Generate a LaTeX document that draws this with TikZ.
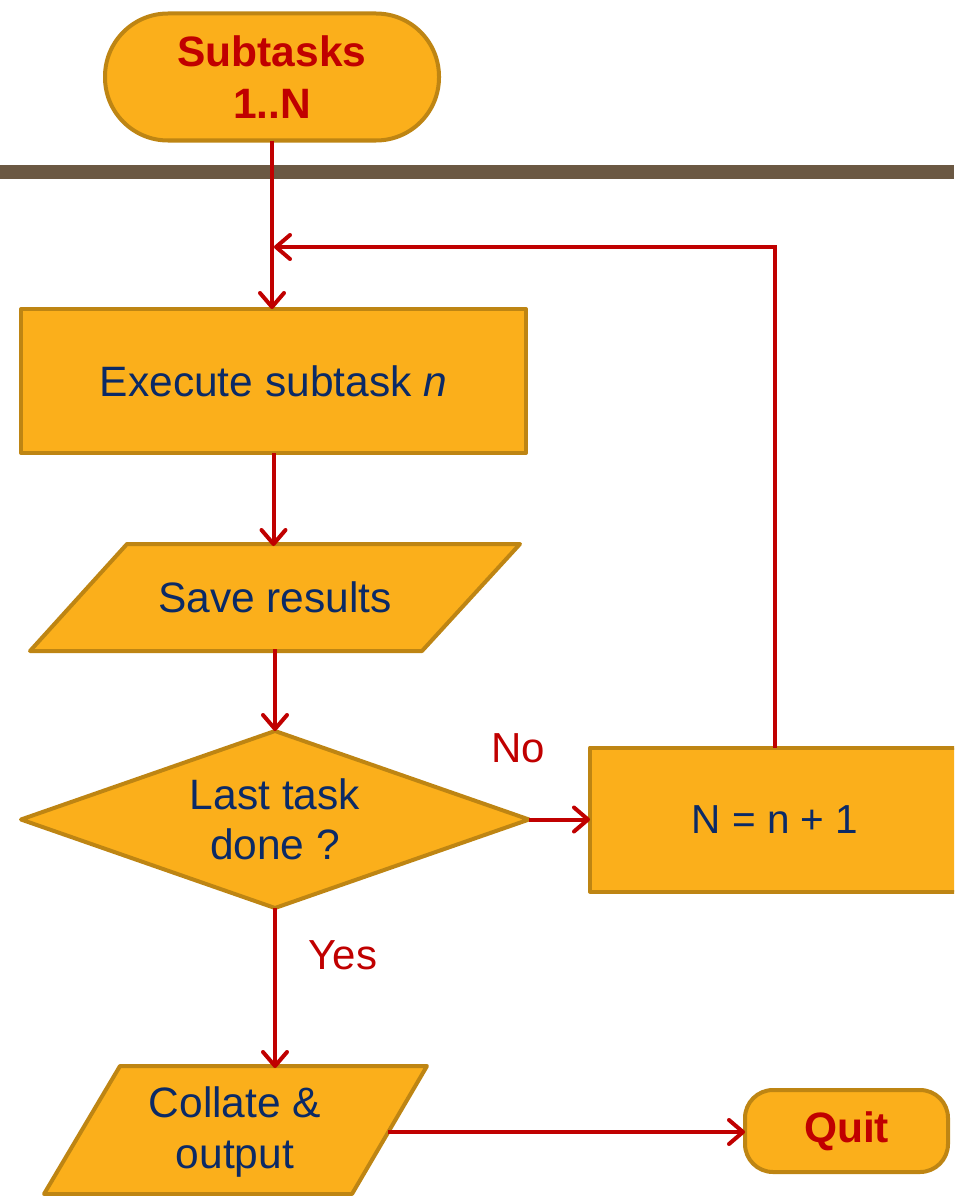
\documentclass[tikz,border=0pt]{standalone}
\usepackage{fontspec}
\setmainfont{Liberation Sans}
\usetikzlibrary{shapes.geometric,arrows.meta}
\definecolor{boxfill}{HTML}{FBAF1B}
\definecolor{boxline}{HTML}{BE8513}
\definecolor{flowred}{HTML}{C00000}
\definecolor{navy}{HTML}{0B2A66}
\definecolor{barbrown}{HTML}{6B5843}
\begin{document}
\begin{tikzpicture}[x=1pt,y=-1pt,
  shapebox/.style={draw=boxline, fill=boxfill, line width=4pt, line join=round, text=navy,
    font=\fontsize{42.5}{50}\selectfont, inner sep=0pt, outer sep=0pt, align=center},
  para/.style={draw=boxline, fill=boxfill, line width=4pt, line join=round},
  paratext/.style={text=navy, font=\fontsize{42.5}{51}\selectfont, inner sep=0pt, outer sep=0pt, align=center},
  term/.style={shapebox, text=flowred, font=\fontsize{42.5}{52}\selectfont\bfseries},
  flow/.style={draw=flowred, line width=4pt, -{Straight Barb[length=14pt,width=24pt,round]}},
  lbl/.style={text=flowred, font=\fontsize{42}{48}\selectfont, inner sep=0pt}
]
\useasboundingbox (0,0) rectangle (954,1196);
\clip (0,0) rectangle (954,1196);
\fill[barbrown] (0,165) rectangle (954,179);
\node[term, rounded corners=63pt, minimum width=334pt, minimum height=127pt] (start) at (272,77) {Subtasks\\1..N};
\node[shapebox, minimum width=505pt, minimum height=144pt] (exec) at (273.5,381) {Execute subtask \textit{n}};
\path[para] (127,544) -- (520,544) -- (422,651) -- (30,651) -- cycle
  (275,597.5) node[paratext, minimum width=393pt, minimum height=103pt] (save) {Save results};
\node[shapebox, diamond, aspect=2.9, minimum width=508pt, minimum height=177pt] (dec) at (275,819.5) {Last task\\done ?};
\node[shapebox, font=\fontsize{40.5}{50}\selectfont, minimum width=370pt, minimum height=144pt] (nbox) at (775,819.5) {N = n + 1};
\path[para] (120,1066) -- (427,1066) -- (352,1194) -- (44,1194) -- cycle
  (235,1132) node[paratext, minimum width=306pt, minimum height=128pt] (collate) {Collate \&\\output};
\node[term, rounded corners=28pt, minimum width=203pt, minimum height=82pt] (quit) at (846.5,1131) {Quit};
\coordinate (join) at (274,247);
\node[lbl] (no) at (518,748) {No};
\node[lbl] (yes) at (343,955) {Yes};
\draw[flow] (start.south) -- (start.south |- exec.north);
\draw[flow] (nbox.north) |- (join);
\draw[flow] (exec.south) -- (exec.south |- save.north);
\draw[flow] (save.south) -- (dec.north);
\draw[flow] (dec.east) -- (dec.east -| nbox.west);
\draw[flow] (dec.south) -- (dec.south |- collate.north);
\draw[flow] (collate.east) -- (collate.east -| quit.west);
\end{tikzpicture}
\end{document}
